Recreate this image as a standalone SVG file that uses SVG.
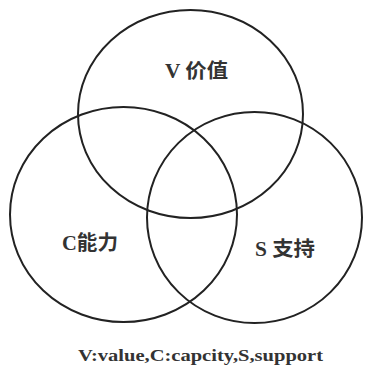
<svg xmlns="http://www.w3.org/2000/svg" width="372" height="366" viewBox="0 0 372 366">
<style>
.c{fill:none;stroke:#222;stroke-width:2}
.t{font-family:"Liberation Serif","Noto Sans CJK SC",serif;fill:#333;font-weight:bold}
.l{font-size:20px}
.b{font-size:17px}
</style>
<rect width="372" height="366" fill="#fff"/>
<g id="V"><ellipse class="c" cx="190.5" cy="114" rx="112.5" ry="104"/><text class="t l" x="165" y="78" textLength="63" lengthAdjust="spacingAndGlyphs">V 价值</text></g>
<g id="C"><ellipse class="c" cx="123.5" cy="214.5" rx="113.5" ry="107.5"/><text class="t l" x="62" y="250" textLength="56" lengthAdjust="spacingAndGlyphs">C能力</text></g>
<g id="S"><ellipse class="c" cx="254.5" cy="217.5" rx="107.5" ry="105.5"/><text class="t l" x="255" y="256" textLength="60" lengthAdjust="spacingAndGlyphs">S 支持</text></g>
<text class="t b" x="78" y="361" textLength="245" lengthAdjust="spacingAndGlyphs">V:value,C:capcity,S,support</text>
</svg>
